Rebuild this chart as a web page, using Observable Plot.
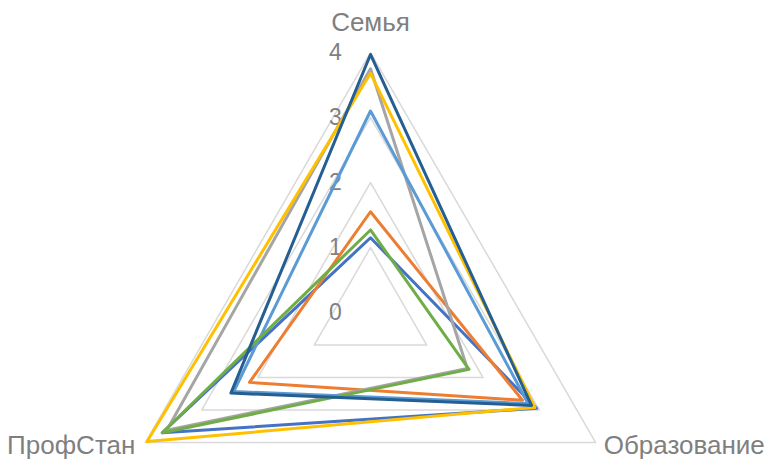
<!DOCTYPE html>
<html>
<head>
<meta charset="utf-8">
<script src="https://cdn.jsdelivr.net/npm/d3@7"></script>
<script src="https://cdn.jsdelivr.net/npm/@observablehq/plot@0.6"></script>
<style>
  html, body { margin: 0; padding: 0; background: #fff; }
</style>
</head>
<body>
<div id="chart"></div>
<script>
// Radar axes (clockwise from the top) and radial ticks
const categories = ["Семья", "Образование", "ПрофСтан"];
const ticks = [0, 1, 2, 3, 4];

// Series values, in the order of categories
const seriesNames = ["Ряд1", "Ряд2", "Ряд3", "Ряд4", "Ряд5", "Ряд6", "Ряд7"];
const ryad1 = [1.15, 2.95, 3.70];
const ryad2 = [1.55, 2.70, 2.15];
const ryad3 = [3.75, 1.72, 3.62];
const ryad4 = [3.68, 2.92, 3.97];
const ryad5 = [3.10, 2.80, 2.43];
const ryad6 = [1.27, 1.75, 3.70];
const ryad7 = [3.97, 2.86, 2.48];
const seriesValues = [ryad1, ryad2, ryad3, ryad4, ryad5, ryad6, ryad7];
const seriesColors = ["#4472C4", "#ED7D31", "#A5A5A5", "#FFC000", "#5B9BD5", "#70AD47", "#255E91"];

const W = 776, H = 459;
const unit = 65;           // pixels per radial unit
const cx = 370, cy = 312;  // centre of the radar in pixels
const rMax = d3.max(ticks);

const angle = i => Math.PI / 2 - i * 2 * Math.PI / categories.length;
const px = (r, i) => r * Math.cos(angle(i));
const py = (r, i) => r * Math.sin(angle(i));

// Polygon rows for the series
const rows = [];
seriesValues.forEach((vals, s) => {
  vals.forEach((v, i) => rows.push({series: seriesNames[s], cat: categories[i], x: px(v, i), y: py(v, i)}));
});

// Gridline triangles at each tick above zero
const grid = [];
ticks.filter(t => t > 0).forEach(t => {
  categories.forEach((c, i) => grid.push({level: t, x: px(t, i), y: py(t, i)}));
});

const font = "'Liberation Sans', Arial, sans-serif";
const labelColor = "#7f7f7f";

const chart = Plot.plot({
  width: W,
  height: H,
  margin: 0,
  style: {background: "#fff", fontFamily: font},
  x: {domain: [-cx / unit, (W - cx) / unit], axis: null},
  y: {domain: [-(H - cy) / unit, cy / unit], axis: null},
  color: {domain: seriesNames, range: seriesColors},
  marks: [
    Plot.line(grid, {x: "x", y: "y", z: "level", curve: "linear-closed", stroke: "#d9d9d9", strokeWidth: 1.5}),
    Plot.text(ticks, {x: () => 0, y: d => d, text: d => String(d), dx: -35, fill: labelColor, fontSize: 23, fontFamily: font}),
    Plot.line(rows, {x: "x", y: "y", z: "series", stroke: "series", curve: "linear-closed", strokeWidth: 3}),
    // Category labels
    Plot.text([0], {x: () => px(rMax, 0), y: () => py(rMax, 0), text: () => categories[0], dy: -30, fill: labelColor, fontSize: 26, fontFamily: font}),
    Plot.text([1], {x: () => px(rMax, 1), y: () => py(rMax, 1), text: () => categories[1], dx: 8, dy: 3, textAnchor: "start", fill: labelColor, fontSize: 26, fontFamily: font}),
    Plot.text([2], {x: () => px(rMax, 2), y: () => py(rMax, 2), text: () => categories[2], dx: -10, dy: 3, textAnchor: "end", fill: labelColor, fontSize: 26, fontFamily: font})
  ]
});

document.getElementById("chart").appendChild(chart);
</script>
</body>
</html>
